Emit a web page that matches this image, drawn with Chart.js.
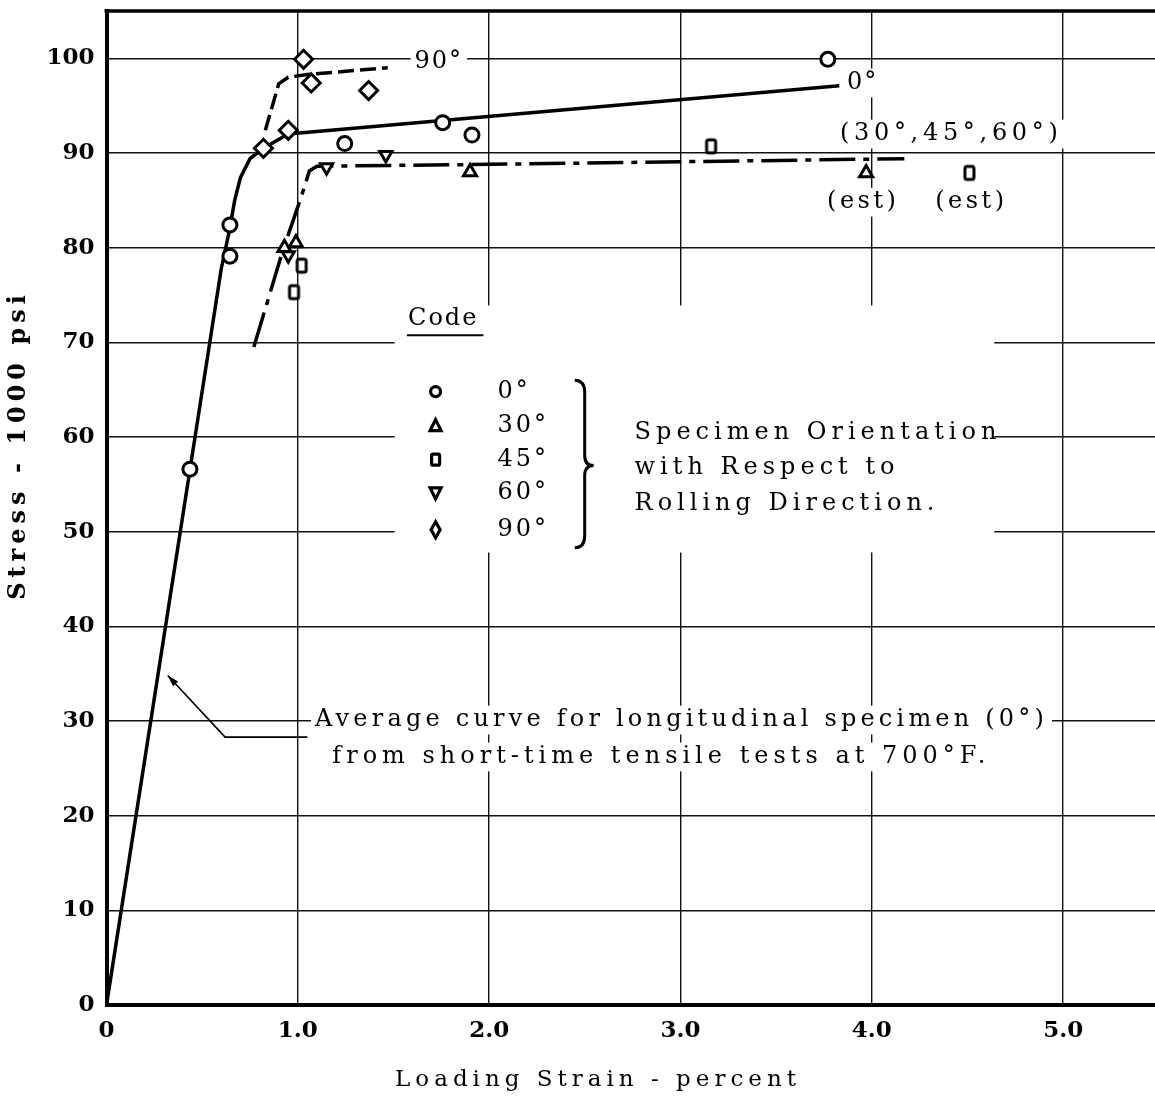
<!DOCTYPE html>
<html>
<head>
<meta charset="utf-8">
<script src="https://cdn.jsdelivr.net/npm/chart.js@4.4.1/dist/chart.umd.min.js"></script>
<style>
  html, body { margin: 0; padding: 0; background: #fff; overflow: hidden; }
  canvas { display: block; }
</style>
</head>
<body>
<canvas id="c" width="1155" height="1102"></canvas>
<script>
// axis ticks
const xTickValues = [0, 1, 2, 3, 4, 5];
const yTickValues = [0, 10, 20, 30, 40, 50, 60, 70, 80, 90, 100];

// test points: [strain %, stress ksi]
const pts0 = [[0.436, 56.6], [0.645, 79.1], [0.645, 82.4], [1.245, 91.0], [1.757, 93.2], [1.91, 91.9], [3.77, 99.9]];
const pts30 = [[0.93, 80.0], [0.99, 80.5], [1.90, 88.0]];
const pts45 = [[0.98, 75.3], [1.02, 78.1], [3.16, 90.7]];
const pts60 = [[0.95, 79.2], [1.15, 88.5], [1.46, 89.8]];
const pts90 = [[0.82, 90.5], [0.95, 92.4], [1.03, 99.9], [1.07, 97.4], [1.37, 96.6]];
const est30 = [[3.97, 87.9]];
const est45 = [[4.51, 87.9]];

// faired curves
const curve0 = [[0, 0], [0.60, 77.8], [0.64, 81.6], [0.67, 85.0], [0.70, 87.4], [0.75, 89.4], [0.82, 90.5], [0.95, 92.0], [3.83, 97.1]];
const curve90 = [[0.83, 92.4], [0.90, 97.3], [0.95, 98.0], [1.05, 98.3], [1.47, 99.0]];
const curveMid = [[0.77, 69.5], [0.92, 79.6], [1.02, 85.5], [1.06, 88.1], [1.10, 88.6], [2.0, 88.8], [4.17, 89.4]];

const xy = arr => arr.map(p => ({ x: p[0], y: p[1] }));

function tallBox() {
  const c = document.createElement('canvas');
  c.width = 15; c.height = 19;
  const g = c.getContext('2d');
  g.fillStyle = '#fff'; g.strokeStyle = '#000'; g.lineWidth = 3;
  g.beginPath();
  g.roundRect(3, 3, 9, 13, 2);
  g.fill(); g.stroke();
  return c;
}
const boxImg = tallBox();

function markers(label, data, style, radius, rotation) {
  return {
    label, data: xy(data), showLine: false, order: 1,
    pointStyle: style, pointRadius: radius, pointRotation: rotation || 0,
    pointBorderWidth: 3, pointBorderColor: '#000', pointBackgroundColor: '#fff'
  };
}
function curve(label, data, dash) {
  return {
    label, data: xy(data), showLine: true, order: 2,
    borderColor: '#000', borderWidth: 3.5, borderDash: dash,
    pointRadius: 0, fill: false, tension: 0
  };
}

const serif = '"DejaVu Serif", serif';

function label(ctx, str, px, py, opts) {
  const o = Object.assign({ size: 24, weight: 'normal', spacing: 3.5, align: 'left', bg: true }, opts || {});
  ctx.font = `${o.weight} ${o.size}px ${serif}`;
  ctx.letterSpacing = o.spacing + 'px';
  const w = ctx.measureText(str).width;
  let left = o.align === 'center' ? px - w / 2 : px;
  if (o.bg) {
    ctx.fillStyle = '#fff';
    ctx.fillRect(left - 4, py - o.size * 0.6, w + 8, o.size * 1.2);
  }
  ctx.fillStyle = '#000';
  ctx.textAlign = 'left';
  ctx.textBaseline = 'middle';
  ctx.fillText(str, left, py);
}

const decor = {
  id: 'decor',
  afterDraw(chart) {
    const { ctx, chartArea: a, scales } = chart;
    const X = v => scales.x.getPixelForValue(v);
    const Y = v => scales.y.getPixelForValue(v);
    ctx.save();

    // top frame
    ctx.strokeStyle = '#000';
    ctx.lineWidth = 3.5;
    ctx.beginPath(); ctx.moveTo(a.left - 2, a.top); ctx.lineTo(a.right, a.top); ctx.stroke();

    // code block
    ctx.fillStyle = '#fff';
    ctx.fillRect(X(1.506), Y(73.9), X(4.64) - X(1.506), Y(47.8) - Y(73.9));
    label(ctx, 'Code', X(1.76), Y(72.5), { align: 'center', spacing: 2, bg: false });
    ctx.strokeStyle = '#000'; ctx.lineWidth = 2;
    ctx.beginPath(); ctx.moveTo(X(1.57), Y(70.75)); ctx.lineTo(X(1.97), Y(70.75)); ctx.stroke();

    const rows = [['0°', 64.8, 'o'], ['30°', 61.2, 't'], ['45°', 57.6, 's'], ['60°', 54.1, 'v'], ['90°', 50.2, 'd']];
    rows.forEach(r => {
      const mx = X(1.72), my = Y(r[1]);
      ctx.strokeStyle = '#000'; ctx.lineWidth = 3.2; ctx.beginPath();
      if (r[2] === 'o') ctx.arc(mx, my, 5, 0, Math.PI * 2);
      if (r[2] === 't') { ctx.moveTo(mx, my - 6); ctx.lineTo(mx + 5.5, my + 5); ctx.lineTo(mx - 5.5, my + 5); ctx.closePath(); }
      if (r[2] === 's') ctx.roundRect(mx - 4, my - 5.5, 8, 11, 1.5);
      if (r[2] === 'v') { ctx.moveTo(mx, my + 6); ctx.lineTo(mx + 5.5, my - 5); ctx.lineTo(mx - 5.5, my - 5); ctx.closePath(); }
      if (r[2] === 'd') { ctx.moveTo(mx, my - 8); ctx.lineTo(mx + 4.5, my); ctx.lineTo(mx, my + 8); ctx.lineTo(mx - 4.5, my); ctx.closePath(); }
      ctx.stroke();
      label(ctx, r[0], X(2.044), my, { bg: false, spacing: 3 });
    });

    // brace
    const bl = X(2.447), bm = bl + 10, br = X(2.546);
    const bt = Y(66.0), bb = Y(48.3), bc = Y(57.0);
    ctx.lineWidth = 3;
    ctx.beginPath();
    ctx.moveTo(bl, bt);
    ctx.quadraticCurveTo(bm, bt, bm, bt + 12);
    ctx.lineTo(bm, bc - 10);
    ctx.quadraticCurveTo(bm, bc, br, bc);
    ctx.quadraticCurveTo(bm, bc, bm, bc + 10);
    ctx.lineTo(bm, bb - 12);
    ctx.quadraticCurveTo(bm, bb, bl, bb);
    ctx.stroke();

    label(ctx, 'Specimen Orientation', X(2.76), Y(60.4), { bg: false, spacing: 5 });
    label(ctx, 'with Respect to', X(2.76), Y(56.7), { bg: false, spacing: 5 });
    label(ctx, 'Rolling Direction.', X(2.76), Y(53.0), { bg: false, spacing: 5 });

    // curve labels
    label(ctx, '90°', X(1.61), Y(99.6), { spacing: 2 });
    label(ctx, '0°', X(3.87), Y(97.4), { spacing: 2 });
    label(ctx, '(30°,45°,60°)', X(4.415), Y(92.0), { align: 'center', spacing: 4.7 });
    label(ctx, '(est)', X(3.955), Y(84.8), { align: 'center', spacing: 3.5 });
    label(ctx, '(est)', X(4.52), Y(84.8), { align: 'center', spacing: 3.5 });

    // note with leader arrow
    label(ctx, 'Average curve for longitudinal specimen (0°)', X(1.09), Y(30.1), { spacing: 4.2 });
    label(ctx, 'from short-time tensile tests at 700°F.', X(1.18), Y(26.2), { spacing: 5 });
    const tx = X(0.32), ty = Y(34.8), kx = X(0.62), ky = Y(28.3);
    ctx.lineWidth = 1.6;
    ctx.beginPath(); ctx.moveTo(X(1.05), ky); ctx.lineTo(kx, ky); ctx.lineTo(tx, ty); ctx.stroke();
    const ang = Math.atan2(ty - ky, tx - kx);
    ctx.fillStyle = '#000';
    ctx.beginPath();
    ctx.moveTo(tx, ty);
    ctx.lineTo(tx - 12 * Math.cos(ang - 0.3), ty - 12 * Math.sin(ang - 0.3));
    ctx.lineTo(tx - 12 * Math.cos(ang + 0.3), ty - 12 * Math.sin(ang + 0.3));
    ctx.closePath(); ctx.fill();

    // axis titles
    ctx.letterSpacing = '5px';
    ctx.font = `bold 24px ${serif}`;
    ctx.textAlign = 'center'; ctx.textBaseline = 'middle';
    ctx.save();
    ctx.translate(19, 445);
    ctx.rotate(-Math.PI / 2);
    ctx.fillText('Stress - 1000 psi', 0, 0);
    ctx.restore();
    ctx.font = `normal 23px ${serif}`;
    ctx.letterSpacing = '5px';
    ctx.fillText('Loading Strain - percent', 598, 1080);

    ctx.restore();
  }
};

const gridColor = c => c.tick && c.tick.value === 0 ? 'rgba(0,0,0,0)' : '#111';
const noPad = s => { s.paddingTop = 0; s.paddingBottom = 0; s.paddingLeft = 0; s.paddingRight = 0; };

new Chart(document.getElementById('c'), {
  type: 'scatter',
  data: {
    datasets: [
      markers('0°', pts0, 'circle', 7),
      markers('30°', pts30, 'triangle', 7.5),
      markers('45°', pts45, boxImg, 8),
      markers('60°', pts60, 'triangle', 7, 180),
      markers('90°', pts90, 'rectRot', 9),
      markers('30° est', est30, 'triangle', 7.5),
      markers('45° est', est45, boxImg, 8),
      curve('0° curve', curve0, []),
      curve('90° curve', curve90, [16, 6]),
      curve('30-60° curve', curveMid, [36, 8, 6, 8])
    ]
  },
  options: {
    responsive: false,
    maintainAspectRatio: false,
    devicePixelRatio: 1,
    animation: false,
    layout: { autoPadding: false, padding: { top: 11, right: 0, left: 0, bottom: 0 } },
    plugins: { legend: { display: false }, tooltip: { enabled: false } },
    scales: {
      x: {
        type: 'linear', min: 0, max: 5.48,
        afterFit: s => { s.height = 97; noPad(s); },
        afterBuildTicks: s => { s.ticks = xTickValues.map(v => ({ value: v })); },
        border: { display: true, color: '#000', width: 4 },
        grid: { color: gridColor, lineWidth: 1.4, drawTicks: false },
        ticks: {
          padding: 12, color: '#000',
          font: { family: '"DejaVu Serif", serif', size: 23, weight: 'bold' },
          callback: v => v === 0 ? '0' : v.toFixed(1)
        }
      },
      y: {
        type: 'linear', min: 0, max: 105,
        afterFit: s => { s.width = 106.5; noPad(s); },
        afterBuildTicks: s => { s.ticks = yTickValues.map(v => ({ value: v })); },
        border: { display: true, color: '#000', width: 4 },
        grid: { color: gridColor, lineWidth: 1.4, drawTicks: false },
        ticks: {
          padding: 12, color: '#000',
          font: { family: '"DejaVu Serif", serif', size: 23, weight: 'bold' },
          callback: v => String(v)
        }
      }
    }
  },
  plugins: [decor]
});
</script>
</body>
</html>
